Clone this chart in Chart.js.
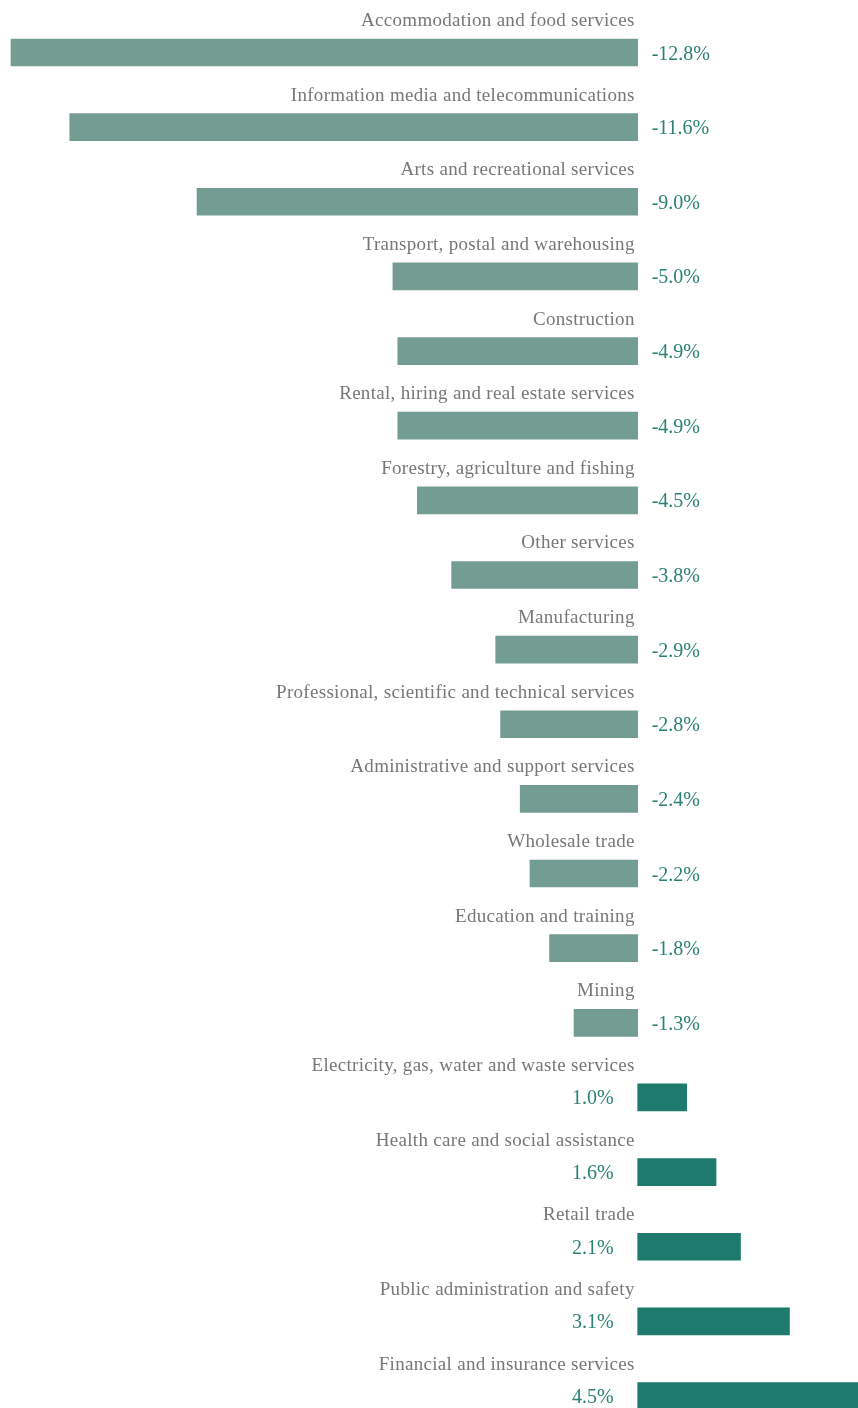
<!DOCTYPE html>
<html>
<head>
<meta charset="utf-8">
<script src="https://cdn.jsdelivr.net/npm/chart.js@4"></script>
<style>
  html, body { margin: 0; padding: 0; background: #fff; overflow: hidden; }
  #wrap { width: 858px; height: 1408px; position: relative; }
</style>
</head>
<body>
<div id="wrap"><canvas id="myChart"></canvas></div>
<script>
const industries = [
    'Accommodation and food services',
    'Information media and telecommunications',
    'Arts and recreational services',
    'Transport, postal and warehousing',
    'Construction',
    'Rental, hiring and real estate services',
    'Forestry, agriculture and fishing',
    'Other services',
    'Manufacturing',
    'Professional, scientific and technical services',
    'Administrative and support services',
    'Wholesale trade',
    'Education and training',
    'Mining',
    'Electricity, gas, water and waste services',
    'Health care and social assistance',
    'Retail trade',
    'Public administration and safety',
    'Financial and insurance services'
];
const changePct = [-12.8, -11.6, -9.0, -5.0, -4.9, -4.9, -4.5, -3.8, -2.9, -2.8, -2.4, -2.2, -1.8, -1.3, 1.0, 1.6, 2.1, 3.1, 4.5];

const negColour = '#739d93';
const posColour = '#1f7a6e';
const labelGrey = '#777777';
const valueTeal = '#2b8175';
const serif = '"Liberation Serif", "DejaVu Serif", serif';

// draws the industry name above each bar and the % value next to it
const barLabels = {
    id: 'barLabels',
    afterDatasetsDraw(chart) {
        const ctx = chart.ctx;
        const x = chart.scales.x;
        const zero = x.getPixelForValue(0);
        const meta = chart.getDatasetMeta(0);
        ctx.save();
        meta.data.forEach((bar, i) => {
            const v = changePct[i];
            const cy = bar.y;

            ctx.font = '19px ' + serif;
            ctx.letterSpacing = '0.3px';
            ctx.fillStyle = labelGrey;
            ctx.textAlign = 'right';
            ctx.textBaseline = 'alphabetic';
            ctx.fillText(industries[i], zero - 3, cy - 26.5);

            ctx.font = '20px ' + serif;
            ctx.letterSpacing = '0px';
            ctx.fillStyle = valueTeal;
            const txt = v.toFixed(1) + '%';
            if (v < 0) {
                ctx.textAlign = 'left';
                ctx.fillText(txt, zero + 14, cy + 7);
            } else {
                ctx.textAlign = 'right';
                ctx.fillText(txt, zero - 24, cy + 7);
            }
        });
        ctx.restore();
    }
};

const ctx = document.getElementById('myChart').getContext('2d');
const myChart = new Chart(ctx, {
    type: 'bar',
    data: {
        labels: industries,
        datasets: [{
            data: changePct,
            backgroundColor: changePct.map(v => v < 0 ? negColour : posColour),
            borderWidth: 0,
            barThickness: 27,
            clip: false
        }]
    },
    options: {
        indexAxis: 'y',
        responsive: true,
        maintainAspectRatio: false,
        animation: false,
        layout: { padding: { top: 52.5, bottom: 12, left: 0, right: 0 } },
        scales: {
            x: { display: false, min: -13.025, max: 4.5 },
            y: { display: false, offset: false }
        },
        plugins: {
            legend: { display: false },
            tooltip: { enabled: false }
        }
    },
    plugins: [barLabels]
});
</script>
</body>
</html>
